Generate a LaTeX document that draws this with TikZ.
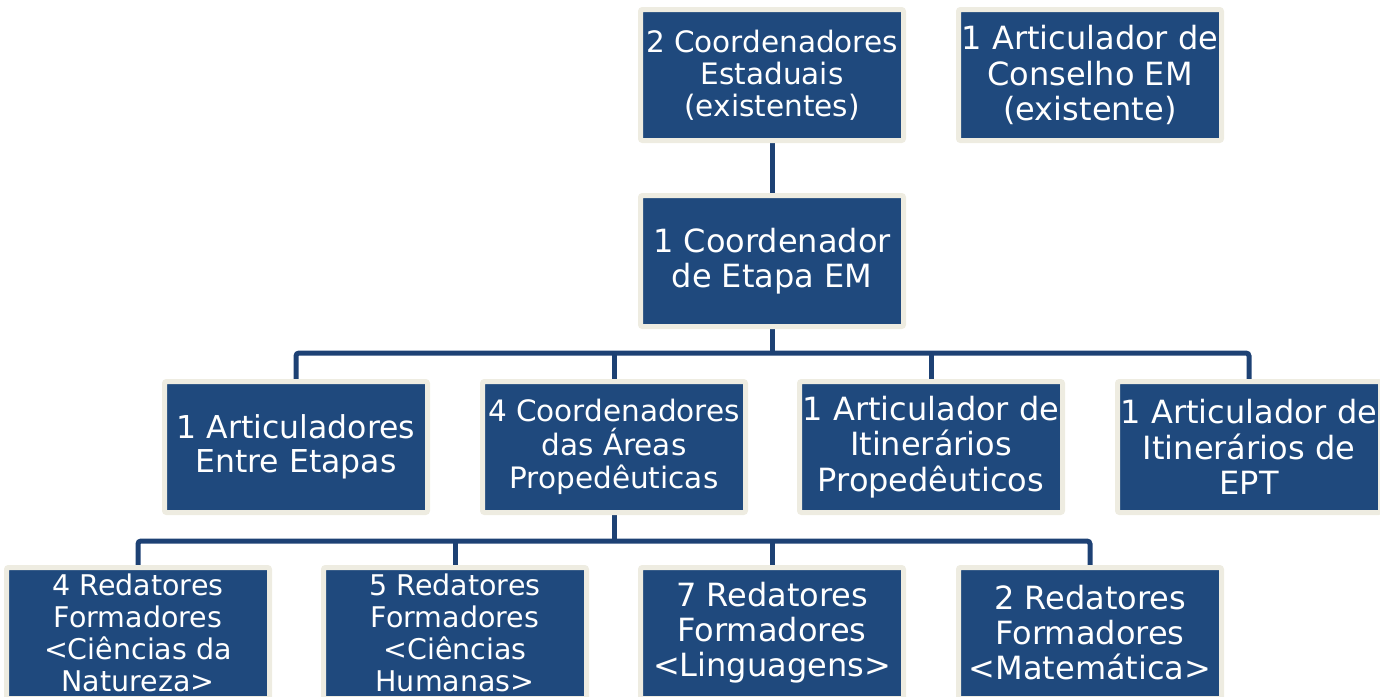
\documentclass[tikz,border=0pt]{standalone}
\usepackage{fontspec}
\setmainfont{DejaVu Sans}
\usetikzlibrary{backgrounds}
\definecolor{boxfill}{HTML}{1F497D}
\definecolor{boxedge}{HTML}{EEECE1}
\definecolor{linecol}{HTML}{1D4174}
\tikzset{
  orgbox/.style={draw=boxedge, fill=boxfill, line width=5pt, rounded corners=2pt,
    text=white, align=center, minimum width=263pt, minimum height=131pt, inner sep=0pt},
  conn/.style={draw=linecol, line width=5pt, rounded corners=3pt},
  fA/.style={font={\fontsize{29.5}{32}\selectfont}},
  fB/.style={font={\fontsize{32}{35.5}\selectfont}},
  fC/.style={font={\fontsize{28.5}{32}\selectfont}},
  fD/.style={font={\fontsize{32}{35}\selectfont}}
}
\begin{document}
\begin{tikzpicture}[x=1pt,y=-1pt]
\clip (0,0) rectangle (1380,696);
% row 1
\node[orgbox,fA] (n1) at (772,75) {2 Coordenadores\\Estaduais\\(existentes)};
\node[orgbox,fB] (n2) at (1090,75) {1 Articulador de\\Conselho EM\\(existente)};
% row 2
\node[orgbox,fB] (c) at (772,261) {1 Coordenador\\de Etapa EM};
% row 3
\node[orgbox,font={\fontsize{31.5}{34}\selectfont}] (a1) at (296,447) {1 Articuladores\\Entre Etapas};
\node[orgbox,font={\fontsize{29.5}{33.5}\selectfont}] (a2) at (614,447) {4 Coordenadores\\das Áreas\\Propedêuticas};
\node[orgbox,fB] (a3) at (931,447) {1 Articulador de\\Itinerários\\Propedêuticos};
\node[orgbox,fB] (a4) at (1249,447) {1 Articulador de\\Itinerários de\\EPT};
% row 4
\node[orgbox,fC] (r1) at (138,633) {4 Redatores\\Formadores\\<Ciências da\\Natureza>};
\node[orgbox,fC] (r2) at (455,633) {5 Redatores\\Formadores\\<Ciências\\Humanas>};
\node[orgbox,fD] (r3) at (772,633) {7 Redatores\\Formadores\\<Linguagens>};
\node[orgbox,fD] (r4) at (1090,633) {2 Redatores\\Formadores\\<Matemática>};
\coordinate (j1) at (772,353);
\coordinate (j2) at (614,541);
\begin{scope}[on background layer]
\draw[conn] (n1.south) -- (c.north);
\draw[conn] (c.south) -- (j1);
\draw[conn] (a1.north) |- (j1) -| (a4.north);
\draw[conn] (a2.north) -- (a2.north |- j1);
\draw[conn] (a3.north) -- (a3.north |- j1);
\draw[conn] (a2.south) -- (j2);
\draw[conn] (r1.north) |- (j2) -| (r4.north);
\draw[conn] (r2.north) -- (r2.north |- j2);
\draw[conn] (r3.north) -- (r3.north |- j2);
\end{scope}
\end{tikzpicture}
\end{document}
